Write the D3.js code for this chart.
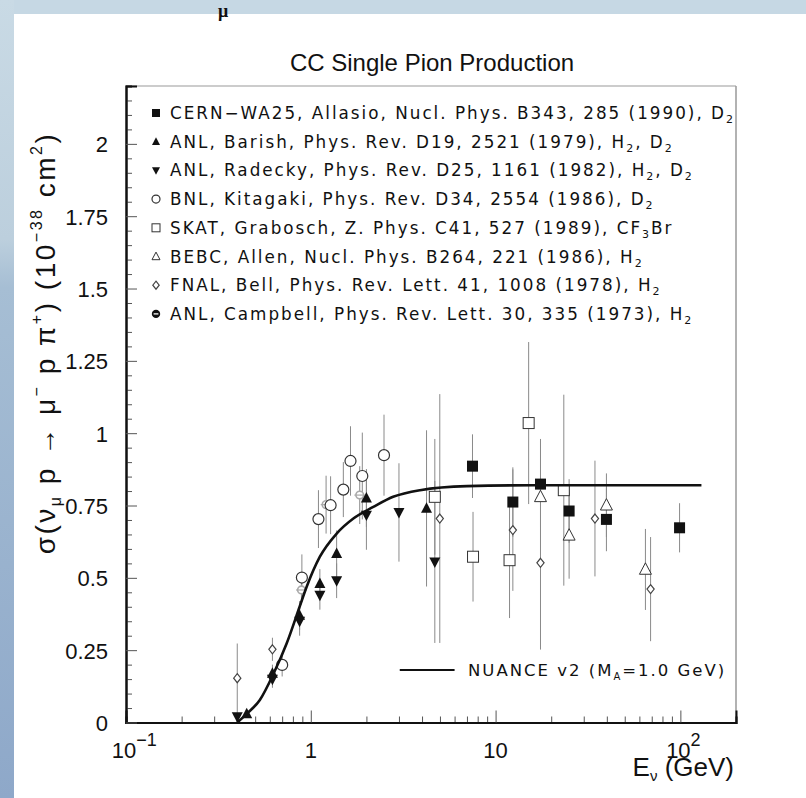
<!DOCTYPE html>
<html>
<head>
<meta charset="utf-8">
<script src="https://cdn.jsdelivr.net/npm/d3@7"></script>
<style>
  html, body { margin: 0; padding: 0; background: #fff; }
  svg { display: block; }
  text { font-family: "DejaVu Sans", "Liberation Sans", sans-serif; fill: #111; }
</style>
</head>
<body>
<svg id="chart" width="806" height="798"></svg>
<script>
// ---- data -------------------------------------------------------------
const titleText = "CC Single Pion Production";

// theory curve (NUANCE v2, M_A = 1.0 GeV): neutrino energy (GeV) and cross section
const curveE     = [0.40, 0.45, 0.53, 0.63, 0.74, 0.87, 0.95, 1.12, 1.38, 1.70, 2.18, 2.79, 3.9, 7.0, 16, 40, 130];
const curveSigma = [0.000, 0.030, 0.078, 0.170, 0.273, 0.400, 0.469, 0.573, 0.653, 0.705, 0.745, 0.780, 0.803, 0.817, 0.820, 0.820, 0.820];

// CERN-WA25 (filled squares)
const cernE   = [7.5, 12.4, 17.5, 25, 39.8, 99];
const cernS   = [0.886, 0.762, 0.824, 0.731, 0.702, 0.673];
const cernErr = [0.11, 0.12, 0.15, 0.11, 0.11, 0.085];

// ANL Barish (filled up-triangles)
const barishE   = [0.45, 0.62, 0.87, 1.12, 1.38, 2.0, 4.23];
const barishS   = [0.03, 0.17, 0.37, 0.48, 0.584, 0.776, 0.740];
const barishErr = [0.01, 0.03, 0.05, 0.05, 0.08, 0.10, 0.27];

// ANL Radecky (filled down-triangles)
const radeckyE   = [0.40, 0.62, 0.87, 1.12, 1.38, 2.0, 3.0, 4.69];
const radeckyS   = [0.02, 0.15, 0.35, 0.44, 0.49, 0.717, 0.726, 0.555];
const radeckyErr = [0.01, 0.03, 0.05, 0.05, 0.06, 0.12, 0.17, 0.28];

// BNL Kitagaki (open circles)
const bnlE   = [0.70, 0.895, 1.10, 1.28, 1.50, 1.64, 1.90, 2.49];
const bnlS   = [0.199, 0.501, 0.703, 0.751, 0.805, 0.904, 0.852, 0.924];
const bnlErr = [0.04, 0.08, 0.10, 0.10, 0.095, 0.12, 0.15, 0.14];

// SKAT Grabosch (open squares)
const skatE   = [4.69, 7.55, 11.9, 15.1, 23.4];
const skatS   = [0.780, 0.573, 0.561, 1.035, 0.803];
const skatErr = [0.20, 0.155, 0.20, 0.28, 0.33];

// BEBC Allen (open up-triangles)
const bebcE   = [17.5, 25, 39.8, 64.7];
const bebcS   = [0.780, 0.647, 0.751, 0.529];
const bebcErr = [0.20, 0.15, 0.11, 0.14];

// FNAL Bell (open diamonds)
const fnalE   = [0.40, 0.62, 4.99, 12.4, 17.5, 34.5, 69];
const fnalS   = [0.153, 0.253, 0.705, 0.665, 0.552, 0.705, 0.461];
const fnalErr = [0.12, 0.04, 0.43, 0.21, 0.30, 0.20, 0.18];

// ANL Campbell
const campE   = [0.89, 1.21, 1.84];
const campS   = [0.458, 0.753, 0.786];
const campErr = [0.05, 0.10, 0.10];

// legend texts ("_x" marks a one-character subscript)
const legendLabels = [
  "CERN\u2212WA25, Allasio, Nucl. Phys. B343, 285 (1990), D_2",
  "ANL, Barish, Phys. Rev. D19, 2521 (1979), H_2, D_2",
  "ANL, Radecky, Phys. Rev. D25, 1161 (1982), H_2, D_2",
  "BNL, Kitagaki, Phys. Rev. D34, 2554 (1986), D_2",
  "SKAT, Grabosch, Z. Phys. C41, 527 (1989), CF_3Br",
  "BEBC, Allen, Nucl. Phys. B264, 221 (1986), H_2",
  "FNAL, Bell, Phys. Rev. Lett. 41, 1008 (1978), H_2",
  "ANL, Campbell, Phys. Rev. Lett. 30, 335 (1973), H_2"
];
const legendSymbols = ["fsq", "tup", "tdown", "circ", "osq", "otri", "odia", "campKey"];

const yTickValues = [0, 0.25, 0.5, 0.75, 1, 1.25, 1.5, 1.75, 2];
const yTickLabels = ["0", "0.25", "0.5", "0.75", "1", "1.25", "1.5", "1.75", "2"];
const xMajorValues = [0.1, 1, 10, 100];
const xMajorBase = ["10", "1", "10", "10"];
const xMajorExp  = ["\u22121", "", "", "2"];

// energy span of the short theory-line sample in the key
const keyLineE = [3.03, 6.0];

// ---- layout -----------------------------------------------------------
const svg = d3.select("#chart");
const W = 806, H = 798;
const plot = { left: 126, right: 736, top: 86, bottom: 722.5 };

const x = d3.scaleLog().domain([0.1, 200]).range([plot.left, plot.right]);
const y = d3.scaleLinear().domain([0, 2.2]).range([plot.bottom, plot.top]);

// slide background: light strip along top, gradient strip down the left
const defs = svg.append("defs");
const grad = defs.append("linearGradient").attr("id", "sideGrad")
  .attr("x1", 0).attr("y1", 0).attr("x2", 0).attr("y2", 1);
[[0, "#c9dae5"], [0.30, "#bccfdd"], [0.36, "#a6bed4"], [1, "#8ea8c9"]].forEach(([o, c]) =>
  grad.append("stop").attr("offset", o).attr("stop-color", c));

svg.append("rect").attr("x", 0).attr("y", 0).attr("width", W).attr("height", H).attr("fill", "#fff");
svg.append("rect").attr("x", 0).attr("y", 0).attr("width", W).attr("height", 14).attr("fill", "#c6d8e4");
svg.append("rect").attr("x", 0).attr("y", 0).attr("width", 14).attr("height", H).attr("fill", "url(#sideGrad)");

// stray glyph at the top edge of the slide
svg.append("text").attr("x", 218).attr("y", 17)
  .style("font-family", "'Liberation Serif', serif").style("font-weight", "bold")
  .style("font-size", "18px").text("\u03bc");

// title
svg.append("text").attr("x", 432).attr("y", 71).attr("text-anchor", "middle")
  .style("font-family", "'Liberation Sans', Arial, sans-serif")
  .style("font-size", "24px").text(titleText);

// ---- frame and axes ---------------------------------------------------
svg.append("line").attr("x1", plot.left).attr("x2", plot.right).attr("y1", plot.top).attr("y2", plot.top)
  .attr("stroke", "#999").attr("stroke-width", 1);
svg.append("line").attr("x1", plot.right).attr("x2", plot.right).attr("y1", plot.top).attr("y2", plot.bottom)
  .attr("stroke", "#999").attr("stroke-width", 1.5);

// x axis: minor ticks, then major ticks
const xMinor = [];
for (let d = 0.1; d < 200; d *= 10) for (let k = 2; k <= 9; k++) if (d * k < 200) xMinor.push(d * k);
const gx = svg.append("g").attr("transform", `translate(0,${plot.bottom})`);
gx.append("g").call(d3.axisBottom(x).tickValues(xMinor).tickSize(-6).tickFormat(""));
gx.append("g").call(d3.axisBottom(x).tickValues(xMajorValues).tickSize(-12).tickFormat(""));
gx.selectAll(".domain").attr("stroke", "#111").attr("stroke-width", 2);
gx.selectAll(".tick line").attr("stroke", "#555").attr("stroke-width", 1);

// x tick labels with exponents
const tickFont = "'Liberation Sans', Arial, sans-serif";
xMajorValues.forEach((v, i) => {
  const t = svg.append("text").attr("y", 758).style("font-family", tickFont).style("font-size", "22px");
  t.append("tspan").text(xMajorBase[i]);
  if (xMajorExp[i]) t.append("tspan").attr("dy", -12).style("font-size", "18px").text(xMajorExp[i]);
  const baseW = t.select("tspan").node().getComputedTextLength();
  t.attr("x", x(v) - baseW / 2 - (xMajorExp[i] ? 2 : 0));
});

// x axis title
const xt = svg.append("text").attr("x", 734).attr("y", 776).attr("text-anchor", "end")
  .style("font-family", tickFont).style("font-size", "26px");
xt.append("tspan").text("E");
xt.append("tspan").attr("dy", 5).style("font-size", "15px").text("\u03bd");
xt.append("tspan").attr("dy", -5).text(" (GeV)");

// y axis
const yMinor = d3.range(0, 2.2001, 0.05).filter(v => Math.abs(v / 0.25 - Math.round(v / 0.25)) > 1e-6);
const gy = svg.append("g").attr("transform", `translate(${plot.left},0)`);
gy.append("g").call(d3.axisLeft(y).tickValues(yMinor).tickSize(-6).tickFormat(""));
const gyMajor = gy.append("g").call(d3.axisLeft(y).tickValues(yTickValues).tickSize(-11).tickPadding(18)
  .tickFormat((d, i) => yTickLabels[i]));
gy.selectAll(".domain").attr("stroke", "#111").attr("stroke-width", 2);
gy.selectAll(".tick line").attr("stroke", "#555").attr("stroke-width", 1);
gyMajor.selectAll("text").style("font-size", "22px").style("font-family", tickFont)
  .attr("fill", "#111").attr("dy", "0.36em");

// y axis title
const yl = svg.append("text").attr("transform", "translate(55,343) rotate(-90)")
  .attr("text-anchor", "middle").style("font-family", tickFont).style("font-size", "28px")
  .style("letter-spacing", "2.5px");
yl.append("tspan").text("\u03c3(\u03bd");
yl.append("tspan").attr("dy", 6).style("font-size", "16px").text("\u03bc");
yl.append("tspan").attr("dy", -6).text(" p \u2192 \u03bc");
yl.append("tspan").attr("dy", -13).style("font-size", "16px").text("\u2212");
yl.append("tspan").attr("dy", 13).text(" p \u03c0");
yl.append("tspan").attr("dy", -13).style("font-size", "16px").text("+");
yl.append("tspan").attr("dy", 13).text(") (10");
yl.append("tspan").attr("dy", -13).style("font-size", "16px").text("\u221238");
yl.append("tspan").attr("dy", 13).text(" cm");
yl.append("tspan").attr("dy", -13).style("font-size", "16px").text("2");
yl.append("tspan").attr("dy", 13).text(")");

// ---- markers ----------------------------------------------------------
function drawMarker(g, type, cx, cy, s) {
  const h = s / 2;
  switch (type) {
    case "fsq":
      g.append("rect").attr("x", cx - h).attr("y", cy - h).attr("width", s).attr("height", s).attr("fill", "#111");
      break;
    case "osq":
      g.append("rect").attr("x", cx - h).attr("y", cy - h).attr("width", s).attr("height", s)
        .attr("fill", "#fff").attr("stroke", "#333").attr("stroke-width", 1);
      break;
    case "tup":
      g.append("path").attr("d", `M${cx},${cy - h * 1.1}L${cx + h},${cy + h * 0.8}L${cx - h},${cy + h * 0.8}Z`).attr("fill", "#111");
      break;
    case "tdown":
      g.append("path").attr("d", `M${cx},${cy + h * 1.1}L${cx + h},${cy - h * 0.8}L${cx - h},${cy - h * 0.8}Z`).attr("fill", "#111");
      break;
    case "otri":
      g.append("path").attr("d", `M${cx},${cy - h * 1.1}L${cx + h},${cy + h * 0.8}L${cx - h},${cy + h * 0.8}Z`)
        .attr("fill", "#fff").attr("stroke", "#333").attr("stroke-width", 1);
      break;
    case "circ":
      g.append("circle").attr("cx", cx).attr("cy", cy).attr("r", h)
        .attr("fill", "#fff").attr("stroke", "#333").attr("stroke-width", 1.2);
      break;
    case "odia":
      g.append("path").attr("d", `M${cx},${cy - h}L${cx + h * 0.8},${cy}L${cx},${cy + h}L${cx - h * 0.8},${cy}Z`)
        .attr("fill", "#fff").attr("stroke", "#444").attr("stroke-width", 1.2);
      break;
    case "camp":
      g.append("circle").attr("cx", cx).attr("cy", cy).attr("r", h * 0.85)
        .attr("fill", "#fff").attr("stroke", "#aaa").attr("stroke-width", 1.6);
      g.append("line").attr("x1", cx - h * 1.2).attr("x2", cx + h * 1.2).attr("y1", cy).attr("y2", cy)
        .attr("stroke", "#aaa").attr("stroke-width", 1.2);
      break;
    case "campKey":
      g.append("circle").attr("cx", cx).attr("cy", cy).attr("r", h * 1.05).attr("fill", "#111");
      g.append("line").attr("x1", cx - h * 0.6).attr("x2", cx + h * 0.6).attr("y1", cy).attr("y2", cy)
        .attr("stroke", "#fff").attr("stroke-width", 1.3);
      break;
  }
}

// ---- data series ------------------------------------------------------
const series = [
  { sym: "camp",  E: campE,    S: campS,    err: campErr,    size: 9 },
  { sym: "odia",  E: fnalE,    S: fnalS,    err: fnalErr,    size: 9 },
  { sym: "osq",   E: skatE,    S: skatS,    err: skatErr,    size: 11 },
  { sym: "otri",  E: bebcE,    S: bebcS,    err: bebcErr,    size: 12 },
  { sym: "circ",  E: bnlE,     S: bnlS,     err: bnlErr,     size: 11 },
  { sym: "fsq",   E: cernE,    S: cernS,    err: cernErr,    size: 11 },
  { sym: "tup",   E: barishE,  S: barishS,  err: barishErr,  size: 11 },
  { sym: "tdown", E: radeckyE, S: radeckyS, err: radeckyErr, size: 11 }
];

const gErr = svg.append("g");
const gPts = svg.append("g");
series.forEach(sr => {
  sr.E.forEach((e, i) => {
    gErr.append("line").attr("x1", x(e)).attr("x2", x(e))
      .attr("y1", y(Math.max(0, sr.S[i] - sr.err[i]))).attr("y2", y(sr.S[i] + sr.err[i]))
      .attr("stroke", "#8a8a8a").attr("stroke-width", 1);
  });
});

// theory curve
const line = d3.line().x((d, i) => x(curveE[i])).y((d, i) => y(curveSigma[i])).curve(d3.curveMonotoneX);
svg.append("path").datum(curveE).attr("d", line).attr("fill", "none")
  .attr("stroke", "#111").attr("stroke-width", 2.6);

series.forEach(sr => {
  sr.E.forEach((e, i) => drawMarker(gPts, sr.sym, x(e), y(sr.S[i]), sr.size));
});

// ---- legend -----------------------------------------------------------
function richText(t, str, subSize) {
  const parts = str.split(/(_.)/);
  let sub = false;
  parts.forEach(p => {
    if (!p) return;
    if (p[0] === "_" && p.length === 2) {
      t.append("tspan").attr("dy", 4).style("font-size", subSize).text(p[1]);
      sub = true;
    } else {
      t.append("tspan").attr("dy", sub ? -4 : 0).text(p);
      sub = false;
    }
  });
}

const legendY0 = 113, legendDY = 28.7;
legendLabels.forEach((lab, i) => {
  const yy = legendY0 + i * legendDY;
  drawMarker(svg, legendSymbols[i], 156, yy, 8);
  const t = svg.append("text").attr("x", 170).attr("y", yy + 6)
    .style("font-size", "16.8px").style("letter-spacing", "2px");
  richText(t, lab, "11px");
});

// theory legend
svg.append("line").attr("x1", x(keyLineE[0])).attr("x2", x(keyLineE[1])).attr("y1", 670).attr("y2", 670)
  .attr("stroke", "#111").attr("stroke-width", 2);
const nl = svg.append("text").attr("x", 468).attr("y", 676)
  .style("font-size", "16.5px").style("letter-spacing", "2px");
nl.append("tspan").text("NUANCE v2 (M");
nl.append("tspan").attr("dy", 4).style("font-size", "10px").text("A");
nl.append("tspan").attr("dy", -4).text("=1.0 GeV)");
</script>
</body>
</html>
